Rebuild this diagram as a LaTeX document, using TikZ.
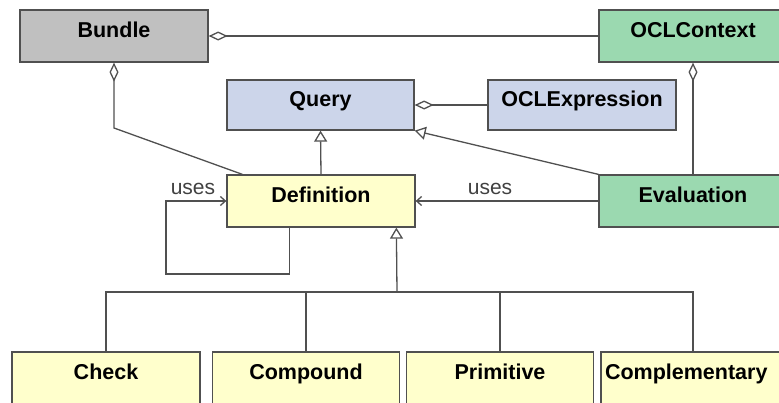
\documentclass[tikz,border=0pt]{standalone}
\usepackage{fontspec}
\setmainfont{Liberation Sans}
\usetikzlibrary{arrows.meta,calc}
\definecolor{cgray}{RGB}{192,192,192}
\definecolor{cgreen}{RGB}{155,217,176}
\definecolor{cblue}{RGB}{204,213,234}
\definecolor{cyellow}{RGB}{255,255,204}
\definecolor{cline}{RGB}{80,80,80}
\tikzset{
  cls/.style={draw=cline, line width=1.3pt, minimum width=188pt, inner ysep=0pt,
    text height=27pt, text depth=25pt, font=\bfseries\fontsize{21.5}{24}\selectfont},
  clsq/.style={cls, text height=26pt, text depth=24pt},
  conn/.style={draw=cline, line width=1.3pt},
  agg/.style={conn, {Diamond[open, fill=white, length=19pt, width=9pt]}-},
  gen/.style={conn, {Triangle[open, fill=white, length=11pt, width=13pt]}-},
  usesarrow/.style={conn, -{Straight Barb[length=5pt, width=9pt]}},
  lbl/.style={font=\fontsize{21}{22}\selectfont, text=cline!80!black, inner sep=0pt}
}
\begin{document}
\begin{tikzpicture}[x=1pt,y=-1pt]
\useasboundingbox (0,0) rectangle (779,402);
% classes
\node[cls, fill=cgray] (bundle) at (114,36) {Bundle};
\node[cls, fill=cgreen] (ctx) at (693,36) {OCLContext};
\node[clsq, fill=cblue, minimum width=187pt] (query) at (320.5,105) {Query};
\node[clsq, fill=cblue] (oclexp) at (582,105) {OCLExpression};
\node[cls, fill=cyellow] (def) at (321,201) {Definition};
\node[cls, fill=cgreen] (eval) at (693,201) {Evaluation};
\node[cls, fill=cyellow] (check) at (106,378) {Check};
\node[cls, fill=cyellow, minimum width=187pt] (compound) at (306,378) {Compound};
\node[cls, fill=cyellow, minimum width=187pt] (primitive) at (500,378) {Primitive};
\node[cls, fill=cyellow, minimum width=184pt, text width=176pt, align=left, inner xsep=3pt] (compl) at (693,378) {Complementary};
% aggregations
\draw[agg] (bundle.east) -- (ctx.west);
\coordinate (bbend) at (114,128);
\draw[agg] (bundle.south) -- (bbend) -- ($(def.north west)+(16,0)$);
\draw[agg] (ctx.south) -- (eval.north);
\draw[agg] (query.east) -- (oclexp.west);
% generalizations to Query
\draw[gen] (query.south) -- (def.north);
\draw[gen] (query.south east) -- (eval.north west);
% uses
\coordinate (loop) at (166,274);
\draw[usesarrow] ($(def.south west)+(63,0)$) |- (loop) |- (def.west);
\node[lbl] (uses1) at (193,189) {uses};
\draw[usesarrow] (eval.west) -- (def.east);
\node[lbl] (uses2) at (490,189) {uses};
% generalization tree
\coordinate (bus) at (397,292);
\draw[gen] ($(def.south west)+(170,0)$) -- (bus);
\draw[conn] (check.north) |- (bus) -| (compl.north);
\draw[conn] (compound.north) -- (compound.north |- bus);
\draw[conn] (primitive.north) -- (primitive.north |- bus);
\end{tikzpicture}
\end{document}
